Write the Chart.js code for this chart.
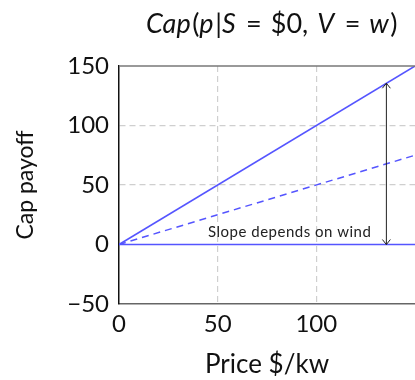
<!DOCTYPE html>
<html><head><meta charset="utf-8">
<script src="https://cdn.jsdelivr.net/npm/chart.js@4.4.0/dist/chart.umd.min.js"></script>
<style>html,body{margin:0;padding:0;background:#fff}#wrap{width:415px;height:380px}</style>
</head><body><div id="wrap"><canvas id="c" width="415" height="380"></canvas></div>
<script>
const priceX = [0, 150];
const payoffFull = [0, 150];
const payoffWind = [0, 75];
const payoffZero = [0, 0];
const yTicks = [-50, 0, 50, 100, 150];
const xTickLabels = [0, 50, 100];
const arrowAt = 135.5;
const arrowTop = 135.5;
const noteText = "Slope depends on wind";
const notePos = [86.5, 10.5];
const titleParts = [["Cap","italic"],["(","normal"],["p","italic"],["|","normal"],["S","italic"],["\u2004=\u2004$0,\u2004","normal"],["V","italic"],["\u2004=\u2004","normal"],["w","italic"],[")","normal"]];

const FONT = "Lato, 'DejaVu Sans', sans-serif";
const BLUE = "rgb(85,85,255)";
const pts = arr => priceX.map((x,i)=>({x, y: arr[i]}));

const overlay = {
  id: 'overlay',
  afterDatasetsDraw(chart) {
    const {ctx, scales:{x,y}, chartArea:a} = chart;
    ctx.save();
    ctx.strokeStyle = '#777'; ctx.lineWidth = 1.5;
    ctx.beginPath(); ctx.moveTo(a.left, a.top); ctx.lineTo(a.right, a.top); ctx.stroke();
    const ax = x.getPixelForValue(arrowAt), y0 = y.getPixelForValue(0), y1 = y.getPixelForValue(arrowTop);
    ctx.strokeStyle = '#222'; ctx.lineWidth = 1;
    ctx.beginPath(); ctx.moveTo(ax, y0); ctx.lineTo(ax, y1); ctx.stroke();
    ctx.beginPath();
    ctx.moveTo(ax-4, y1+5); ctx.lineTo(ax, y1); ctx.lineTo(ax+4, y1+5);
    ctx.moveTo(ax-4, y0-5); ctx.lineTo(ax, y0); ctx.lineTo(ax+4, y0-5);
    ctx.stroke();
    ctx.fillStyle = '#222'; ctx.font = "15px " + FONT;
    try { ctx.letterSpacing = '0.5px'; } catch(e) {}
    ctx.textAlign = 'center'; ctx.textBaseline = 'middle';
    ctx.fillText(noteText, x.getPixelForValue(notePos[0]), y.getPixelForValue(notePos[1]));
    try { ctx.letterSpacing = '0px'; } catch(e) {}
    const TF = s => s + " 27px " + FONT;
    let total = 0;
    titleParts.forEach(([t,s]) => { ctx.font = TF(s); total += ctx.measureText(t).width; });
    let cx = 268 - total/2;
    ctx.textAlign = 'left'; ctx.fillStyle = '#111';
    titleParts.forEach(([t,s]) => { ctx.font = TF(s); ctx.fillText(t, cx, 24); cx += ctx.measureText(t).width + (s==='italic'?1.5:0); });
    ctx.restore();
  }
};

const gridColor = c => (c.tick && (c.tick.value===50||c.tick.value===100)) ? '#cfcfcf' : 'transparent';

new Chart(document.getElementById('c'), {
  type: 'line',
  data: { datasets: [
    { data: pts(payoffFull), borderColor: BLUE, borderWidth: 1.5, pointRadius: 0 },
    { data: pts(payoffWind), borderColor: BLUE, borderWidth: 1.5, borderDash: [7,5], pointRadius: 0 },
    { data: pts(payoffZero), borderColor: BLUE, borderWidth: 1.5, pointRadius: 0 }
  ]},
  options: {
    responsive: false, animation: false, devicePixelRatio: 1,
    layout: { padding: { top: 66, right: 0, left: 0, bottom: 0 } },
    plugins: { legend: { display: false }, tooltip: { enabled: false }, title: { display: false } },
    scales: {
      x: { type: 'linear', min: 0, max: 150,
        afterBuildTicks: s => { s.ticks = [0,50,100,150].map(v=>({value:v})); },
        afterFit: s => { s.height = 76; s.paddingRight = 0; s.paddingLeft = 0; },
        ticks: { padding: 6, color: '#111', font: { size: 24, family: FONT },
          callback: v => xTickLabels.includes(v) ? String(v) : '' },
        grid: { drawTicks: false, color: gridColor, lineWidth: 1.2 },
        border: { display: true, color: '#666', width: 1.5, dash: [6,4] },
        title: { display: true, text: 'Price $/kw', color: '#111', font: { size: 26, family: FONT }, padding: { top: 2, bottom: 0 } }
      },
      y: { min: -50, max: 150,
        afterBuildTicks: s => { s.ticks = yTicks.map(v=>({value:v})); },
        afterFit: s => { s.width = 119; s.paddingTop = 0; s.paddingBottom = 0; },
        ticks: { padding: 10, color: '#111', font: { size: 24, family: FONT },
          callback: v => String(v).replace('-', '\u2212') },
        grid: { drawTicks: false, color: gridColor, lineWidth: 1.2 },
        border: { display: true, color: '#111', width: 1.5, dash: [6,4] },
        title: { display: true, text: 'Cap payoff', color: '#111', font: { size: 23, family: FONT }, padding: { top: 12, bottom: 0 } }
      }
    }
  },
  plugins: [overlay]
});
</script></body></html>
